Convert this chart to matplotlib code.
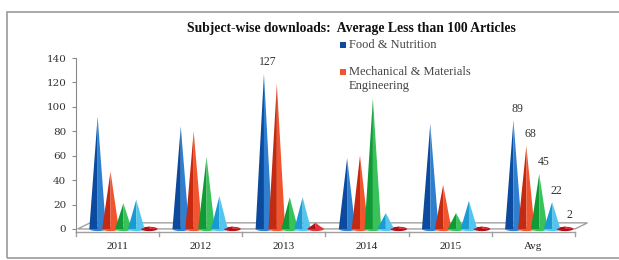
import numpy as np
import matplotlib
matplotlib.use("Agg")
import matplotlib.pyplot as plt
from matplotlib.patches import Polygon, Ellipse, Rectangle

# data
categories = ["2011", "2012", "2013", "2014", "2015", "Avg"]
food = [92, 84, 127, 58, 86, 89]
mech = [47, 80, 119, 60, 36, 68]
green_s = [21, 59, 26, 107, 13, 45]
cyan_s = [24, 27, 26, 13, 23, 22]
dred_s = [2, 2, 5, 2, 2, 2]
series = [food, mech, green_s, cyan_s, dred_s]
legend_names = ["Food & Nutrition", "Mechanical & Materials\nEngineering"]
# (series index, category index) of values with a data label
labelled = [(0, 2), (0, 5), (1, 5), (2, 5), (3, 5), (4, 5)]
yticks = [0, 20, 40, 60, 80, 100, 120, 140]

# dark side / light side of each cone
cols = [("#0b4a9c", "#2f7fd0"),
        ("#c42a12", "#f0552e"),
        ("#0f9a35", "#39c25a"),
        ("#1a9ad2", "#55c4ee"),
        ("#b01018", "#e0353a")]
offsets = [-0.24, -0.085, 0.07, 0.225, 0.38]
w = 0.2

fig = plt.figure(figsize=(6.19, 2.6), dpi=100)
fig.patch.set_facecolor("white")
fig.patches.append(Rectangle((7 / 619, 2 / 260), 1.0, 246 / 260, transform=fig.transFigure,
                             fill=False, edgecolor="#9a9a9a", lw=1.2))

ax = fig.add_axes([76 / 619, 28 / 260, 499 / 619, 174 / 260])
ax.set_xlim(-0.5, 5.5)
ax.set_ylim(-2.5, 140)
for s in ["top", "right", "bottom"]:
    ax.spines[s].set_visible(False)
ax.spines["left"].set_color("#8a8a8a")
ax.set_yticks(yticks)
ax.set_yticklabels([str(t) for t in yticks], family="DejaVu Serif", fontsize=7.5, color="#333333")
ax.tick_params(axis="y", length=3, color="#8a8a8a", pad=4)
ax.set_xticks([])

# floor of the 3D plot
dx, dy = 0.15, 5
floor = Polygon([(-0.48, 0), (5.5, 0), (5.5 + dx, dy), (-0.48 + dx, dy)], closed=True,
                facecolor="white", edgecolor="#a0a0a0", lw=1, clip_on=False, zorder=1)
ax.add_patch(floor)
for b in np.arange(-0.5, 6.0, 1.0):
    ax.plot([b, b], [-2.5, -6], color="#a0a0a0", lw=1, clip_on=False)
ax.plot([-0.5, 5.5], [-2.5, -2.5], color="#a0a0a0", lw=1, clip_on=False)
for j, c in enumerate(categories):
    ax.text(j, -11, c, ha="center", va="top", family="Liberation Serif", fontsize=8, color="#222222")

for i, vals in enumerate(series):
    dark, light = cols[i]
    for j, v in enumerate(vals):
        x = j + offsets[i]
        ax.add_patch(Polygon([(x - w / 2, 0), (x, v), (x, 0)], closed=True, facecolor=dark,
                             edgecolor="none", zorder=3, clip_on=False))
        ax.add_patch(Polygon([(x, 0), (x, v), (x + w / 2, 0)], closed=True, facecolor=light,
                             edgecolor="none", zorder=3, clip_on=False))
        ax.add_patch(Ellipse((x, 0), w, 3.5, facecolor=dark if v < 5 else light,
                             edgecolor="none", zorder=2.9))

for i, j in labelled:
    v = series[i][j]
    ax.annotate(str(v), (j + offsets[i], v), xytext=(3, 4), textcoords="offset points",
                ha="center", va="bottom", family="Liberation Serif", fontsize=8.5,
                color="#333333", annotation_clip=False)

fig.text(351 / 619, 1 - 28 / 260, "Subject-wise downloads:  Average Less than 100 Articles",
         ha="center", va="center", family="Liberation Serif", fontweight="bold",
         fontsize=9.8, color="#111111")

# legend (only first two entries visible)
leg_y = [45, 72]
for k, name in enumerate(legend_names):
    fig.patches.append(Rectangle((340 / 619, 1 - (leg_y[k] + 3) / 260), 6 / 619, 6 / 260,
                                 transform=fig.transFigure, facecolor=cols[k][1] if k else cols[k][0],
                                 edgecolor="none"))
    fig.text(349 / 619, 1 - (leg_y[k] - 6) / 260, name, ha="left", va="top",
             family="Liberation Serif", fontsize=9, color="#444444", linespacing=1.2)

fig.savefig("out.png", dpi=100)
